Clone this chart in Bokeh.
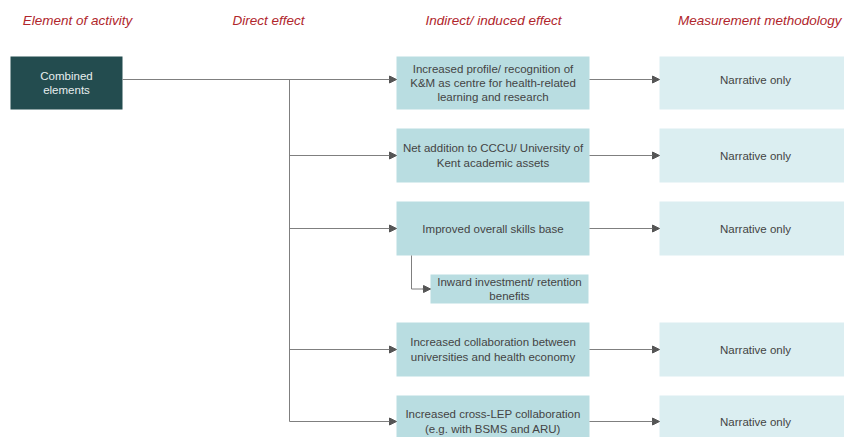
from bokeh.plotting import figure
from bokeh.models import Range1d, Arrow, NormalHead
from bokeh.core.properties import value
from bokeh.embed import file_html
from bokeh.resources import INLINE

# ---- content ----
headers = ["Element of activity", "Direct effect", "Indirect/ induced effect", "Measurement methodology"]
source_label = "Combined\nelements"
indirect_labels = [
    "Increased profile/ recognition of\nK&M as centre for health-related\nlearning and research",
    "Net addition to CCCU/ University of\nKent academic assets",
    "Improved overall skills base",
    "Increased collaboration between\nuniversities and health economy",
    "Increased cross-LEP collaboration\n(e.g. with BSMS and ARU)",
]
sub_label = "Inward investment/ retention\nbenefits"
measure_labels = ["Narrative only"] * 5

# ---- layout (pixel space) ----
header_x = [77, 268, 493, 841]
header_align = ["center", "center", "center", "right"]
header_y = 20
row_top = [56, 128, 201, 322, 395]
row_bot = [109, 182, 255, 376, 450]
arrow_y = [79, 155, 228, 349, 421]
src_box = (10, 122, 56, 109)
ind_l, ind_r = 396, 589
mea_l, mea_r = 659, 860
sub_box = (430, 588, 274, 303)
trunk_x = 289
sub_x = 411

W, H = 844, 437
p = figure(width=W, height=H, x_range=Range1d(0, W), y_range=Range1d(H, 0),
           output_backend="svg", toolbar_location=None, min_border=0)
p.axis.visible = False
p.grid.visible = False
p.outline_line_color = None
p.background_fill_color = "white"

LINE = "#7f7f7f"
FONT = "Liberation Sans"
FS = "11.5px"
TXT = "#444444"

# boxes
p.quad(left=[src_box[0]], right=[src_box[1]], top=[src_box[2]], bottom=[src_box[3]],
       fill_color="#234c4f", line_color=None)
p.quad(left=[ind_l] * 5, right=[ind_r] * 5, top=row_top, bottom=row_bot,
       fill_color="#b9dde1", line_color=None)
p.quad(left=[sub_box[0]], right=[sub_box[1]], top=[sub_box[2]], bottom=[sub_box[3]],
       fill_color="#b9dde1", line_color=None)
mrows = [i for i, m in enumerate(measure_labels) if m]
p.quad(left=[mea_l] * len(mrows), right=[mea_r] * len(mrows),
       top=[row_top[i] for i in mrows], bottom=[row_bot[i] for i in mrows],
       fill_color="#dbeef1", line_color=None)

# connector lines
xs, ys = [], []
xs.append([src_box[1], ind_l - 6]); ys.append([arrow_y[0], arrow_y[0]])
xs.append([trunk_x, trunk_x]); ys.append([arrow_y[0], arrow_y[-1]])
for yy in arrow_y[1:]:
    xs.append([trunk_x, ind_l - 6]); ys.append([yy, yy])
for i in mrows:
    xs.append([ind_r, mea_l - 6]); ys.append([arrow_y[i], arrow_y[i]])
sub_y = (sub_box[2] + sub_box[3]) / 2
xs.append([sub_x, sub_x, sub_box[0] - 6]); ys.append([row_bot[2], sub_y, sub_y])
p.multi_line(xs=xs, ys=ys, line_color=LINE, line_width=1)

# arrowheads
heads = [(ind_l - 8, ind_l, yy) for yy in arrow_y]
heads += [(mea_l - 8, mea_l, arrow_y[i]) for i in mrows]
heads.append((sub_box[0] - 8, sub_box[0], sub_y))
for x0, x1, yy in heads:
    p.add_layout(Arrow(end=NormalHead(size=7, fill_color="#555555", line_color="#555555"),
                       x_start=x0, y_start=yy, x_end=x1, y_end=yy,
                       line_color=LINE, line_width=1))

# texts
p.text(x=header_x, y=[header_y] * 4, text=headers, text_font=value(FONT),
       text_font_style="italic", text_font_size="13.5px", text_color="#b0262c",
       text_align=header_align, text_baseline="middle")
p.text(x=[(src_box[0] + src_box[1]) / 2], y=[(src_box[2] + src_box[3]) / 2], text=[source_label],
       text_font=value(FONT), text_font_size=FS, text_color="#e8eeee",
       text_align="center", text_baseline="middle", text_line_height=1.2)
ind_cy = [(t + b) / 2 for t, b in zip(row_top, row_bot)]
ind_cy[-1] = arrow_y[-1]
p.text(x=[(ind_l + ind_r) / 2] * 5, y=ind_cy, text=indirect_labels,
       text_font=value(FONT), text_font_size=FS, text_color=TXT,
       text_align="center", text_baseline="middle", text_line_height=1.2)
p.text(x=[(sub_box[0] + sub_box[1]) / 2], y=[sub_y], text=[sub_label],
       text_font=value(FONT), text_font_size=FS, text_color=TXT,
       text_align="center", text_baseline="middle", text_line_height=1.2)
p.text(x=[755] * len(mrows), y=[arrow_y[i] for i in mrows],
       text=[measure_labels[i] for i in mrows],
       text_font=value(FONT), text_font_size=FS, text_color=TXT,
       text_align="center", text_baseline="middle")

open("out.html", "w").write(file_html(p, INLINE))
